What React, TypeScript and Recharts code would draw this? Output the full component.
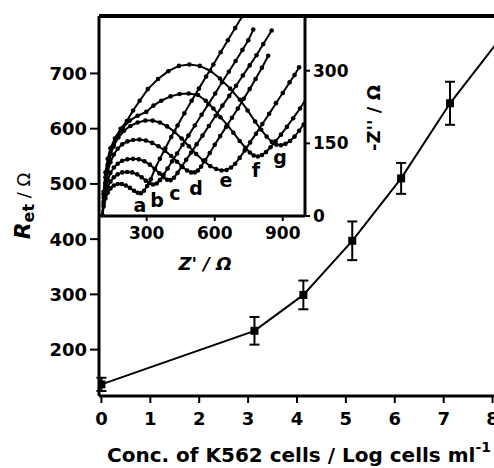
import React from 'react';
import { LineChart, Line, XAxis, YAxis, ErrorBar, ReferenceLine } from 'recharts';

// main plot: charge-transfer resistance vs. log concentration
const conc = [0, 3.13, 4.13, 5.13, 6.13, 7.13, 8.13];
const ret = [137, 234, 299, 397, 510, 646, 760];
const retErr = [12, 25, 26, 35, 28, 39, 40];
const xTicks = [0, 1, 2, 3, 4, 5, 6, 7, 8];
const yTicks = [200, 300, 400, 500, 600, 700];

// inset: Nyquist plots, [Z', -Z'']
const insetXTicks = [300, 600, 900];
const insetYTicks = [0, 150, 300];
const curveNames = ['a', 'b', 'c', 'd', 'e', 'f', 'g'];

const curveA = [
  [105, 0], [110, 20], [118, 36], [128, 48], [140, 57], [155, 63], [172, 66], [190, 66], [208, 63],
  [226, 58], [244, 52], [260, 48], [274, 47], [288, 52], [302, 62], [318, 76], [336, 97], [358, 118],
  [382, 140], [408, 163], [436, 187], [466, 212], [498, 238], [530, 263], [562, 288], [594, 313],
  [626, 338], [658, 363], [690, 388], [722, 413],
];
const curveB = [
  [105, 0], [110, 25], [118, 45], [128, 60], [140, 71], [155, 80], [172, 86], [192, 90], [214, 91],
  [236, 90], [258, 86], [278, 80], [296, 73], [312, 68], [328, 65], [344, 67], [358, 74], [374, 85],
  [392, 98], [412, 113], [434, 129], [458, 147], [484, 166], [512, 187], [542, 209], [572, 231],
  [602, 253], [632, 276], [662, 298], [692, 320], [722, 343], [748, 363], [770, 385],
];
const curveC = [
  [105, 0], [110, 30], [118, 55], [128, 74], [140, 89], [155, 100], [172, 108], [192, 114], [215, 117],
  [240, 118], [265, 117], [290, 113], [314, 106], [336, 97], [356, 88], [374, 80], [390, 75], [405, 74],
  [420, 79], [436, 89], [454, 102], [474, 116], [496, 131], [520, 148], [546, 166], [574, 186],
  [604, 207], [634, 228], [664, 248], [694, 269], [724, 290], [754, 311], [784, 332], [814, 355],
  [851, 383],
];
const curveD = [
  [105, 0], [110, 38], [118, 68], [128, 92], [140, 111], [155, 127], [172, 139], [192, 148], [215, 154],
  [240, 157], [268, 158], [296, 156], [324, 151], [352, 144], [380, 135], [408, 124], [434, 112],
  [458, 101], [478, 94], [496, 90], [512, 90], [526, 94], [540, 102], [558, 115], [578, 130],
  [600, 147], [624, 165], [650, 184], [676, 203], [702, 222], [728, 242], [754, 262], [780, 283],
  [808, 306], [836, 331],
];
const curveE = [
  [105, 0], [110, 45], [118, 80], [128, 106], [140, 127], [155, 145], [175, 162], [200, 176], [228, 186],
  [260, 193], [294, 197], [326, 197], [358, 193], [390, 185], [422, 174], [454, 160], [486, 144],
  [518, 128], [550, 114], [580, 103], [606, 97], [630, 94], [652, 95], [672, 100], [690, 108],
  [710, 120], [732, 135], [756, 152], [782, 170], [810, 190], [840, 211], [870, 233], [900, 254],
  [930, 276], [952, 291], [972, 307],
];
const curveF = [
  [105, 0], [112, 50], [122, 88], [135, 118], [150, 142], [170, 163], [195, 182], [225, 197],
  [260, 207], [298, 215], [330, 228], [364, 238], [405, 247], [445, 252], [485, 253], [526, 250],
  [560, 238], [594, 222], [625, 204], [655, 188], [682, 172], [710, 155], [735, 141], [755, 131],
  [772, 125], [790, 123], [808, 126], [826, 132], [846, 142], [868, 154], [892, 168], [918, 184],
  [946, 202], [976, 222], [1006, 244],
];
const curveG = [
  [105, 0], [110, 50], [118, 90], [128, 118], [140, 140], [160, 160], [185, 180], [212, 196],
  [240, 218], [269, 238], [305, 262], [350, 283], [395, 299], [442, 310], [488, 313], [534, 310],
  [580, 300], [623, 284], [668, 263], [711, 240], [745, 218], [778, 195], [805, 178], [829, 164],
  [852, 153], [872, 147], [892, 146], [912, 149], [932, 155], [952, 164], [972, 176], [992, 189],
  [1012, 203],
];
const curves = [curveA, curveB, curveC, curveD, curveE, curveF, curveG];

// pixel spots for the curve letters inside the inset
const letterSpots = [
  [140, 212], [157, 207], [175, 200], [196, 195], [226, 187], [256, 177], [280, 164],
];

const mainData = conc.map((x, i) => ({ x, y: ret[i], err: retErr[i] }));
const insetData = curves.map((c) => c.map(([x, y]) => ({ x, y })));

const tickFont = { fill: '#000', fontSize: 18, fontWeight: 700, fontFamily: 'DejaVu Sans' };
const insetTickFont = { fill: '#000', fontSize: 17, fontWeight: 700, fontFamily: 'DejaVu Sans' };

const SquareDot = (props: any) => {
  const { cx, cy, index } = props;
  if (cx == null || cy == null) return null;
  return <rect key={`sq-${index}`} x={cx - 4} y={cy - 4} width={8} height={8} fill="#000" />;
};

export default function App() {
  return (
    <div
      style={{
        position: 'absolute',
        left: 0,
        top: 0,
        width: 494,
        height: 468,
        overflow: 'hidden',
        background: '#fff',
        fontFamily: 'DejaVu Sans',
      }}
    >
      <div style={{ position: 'absolute', left: 0, top: 0 }}>
        <LineChart width={517} height={468} data={mainData} margin={{ top: 16, right: 0, bottom: 0, left: 0 }}>
          <XAxis
            dataKey="x"
            type="number"
            domain={[-0.05, 8.5]}
            ticks={xTicks}
            interval={0}
            allowDataOverflow
            height={72}
            axisLine={{ stroke: '#000', strokeWidth: 3 }}
            tickLine={{ stroke: '#000', strokeWidth: 2 }}
            tickSize={7}
            tickMargin={9}
            tick={tickFont}
          />
          <YAxis
            type="number"
            domain={[116, 804]}
            ticks={yTicks}
            interval={0}
            allowDataOverflow
            width={99}
            axisLine={{ stroke: '#000', strokeWidth: 3 }}
            tickLine={{ stroke: '#000', strokeWidth: 2 }}
            tickSize={9}
            tickMargin={3}
            tick={tickFont}
          />
          <ReferenceLine y={804} stroke="#000" strokeWidth={4} />
          <Line
            dataKey="y"
            type="linear"
            stroke="#000"
            strokeWidth={2}
            dot={SquareDot}
            isAnimationActive={false}
          >
            <ErrorBar dataKey="err" width={5} strokeWidth={2} stroke="#000" />
          </Line>
        </LineChart>
      </div>

      <div style={{ position: 'absolute', left: 0, top: 0 }}>
        <LineChart width={400} height={280} margin={{ top: 16, right: 0, bottom: 0, left: 100 }}>
          <XAxis
            dataKey="x"
            type="number"
            domain={[94, 998]}
            ticks={insetXTicks}
            interval={0}
            allowDataOverflow
            height={64}
            axisLine={{ stroke: '#000', strokeWidth: 3 }}
            tickLine={{ stroke: '#000', strokeWidth: 2 }}
            tickSize={5}
            tickMargin={6}
            tick={insetTickFont}
          />
          <YAxis
            orientation="right"
            type="number"
            domain={[0, 413]}
            ticks={insetYTicks}
            interval={0}
            allowDataOverflow
            width={95}
            axisLine={{ stroke: '#000', strokeWidth: 3 }}
            tickLine={{ stroke: '#000', strokeWidth: 2 }}
            tickSize={5}
            tickMargin={3}
            tick={insetTickFont}
          />
          {insetData.map((pts, i) => (
            <Line
              key={curveNames[i]}
              data={pts}
              dataKey="y"
              type="linear"
              stroke="#000"
              strokeWidth={2}
              dot={{ r: 2.3, fill: '#000', stroke: 'none' }}
              isAnimationActive={false}
            />
          ))}
        </LineChart>
      </div>

      <svg
        width={494}
        height={468}
        style={{ position: 'absolute', left: 0, top: 0, pointerEvents: 'none' }}
        fontFamily="DejaVu Sans"
      >
        <text x={107} y={462} fontSize={20} fontWeight={700} fill="#000">
          Conc. of K562 cells / Log cells ml
          <tspan fontSize={14} dy={-10}>-1</tspan>
        </text>
        <text transform="translate(30,206) rotate(-90)" textAnchor="middle" fill="#000">
          <tspan fontSize={22} fontWeight={700} fontStyle="italic">R</tspan>
          <tspan fontSize={16} fontWeight={700} dy={4}>et</tspan>
          <tspan fontSize={18} dy={-4}> / Ω</tspan>
        </text>
        <text x={205} y={270} textAnchor="middle" fontSize={18} fontWeight={700} fontStyle="italic" fill="#000">
          Z' / Ω
        </text>
        <text transform="translate(380,118) rotate(-90)" textAnchor="middle" fontSize={18} fontWeight={700} fill="#000">
          -Z'' / Ω
        </text>
        {curveNames.map((n, i) => (
          <text
            key={n}
            x={letterSpots[i][0]}
            y={letterSpots[i][1]}
            textAnchor="middle"
            fontSize={19}
            fontWeight={700}
            fill="#000"
          >
            {n}
          </text>
        ))}
      </svg>
    </div>
  );
}
